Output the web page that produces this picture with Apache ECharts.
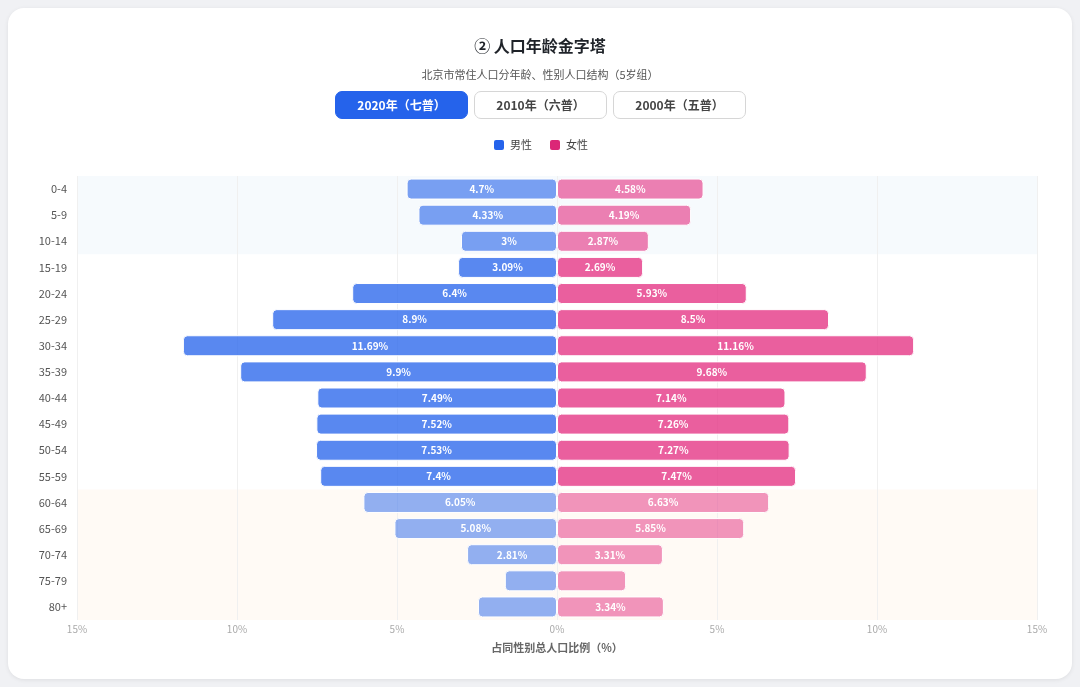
<!DOCTYPE html>
<html>
<head>
<meta charset="utf-8">
<script src="https://cdn.jsdelivr.net/npm/echarts@6/dist/echarts.min.js"></script>
<style>
  html, body { margin: 0; padding: 0; background: #f0f1f4; font-family: "Noto Sans CJK SC", "Noto Sans", sans-serif; }
  #card { position: absolute; left: 8px; top: 8px; width: 1064px; height: 671px; background: #fff; border-radius: 16px; box-shadow: 0 1px 4px rgba(0,0,0,0.08); }
  #box1 { position: absolute; left: 0; top: 0; width: 1080px; height: 687px; }
  .btns { position: absolute; top: 91px; left: 335px; display: flex; gap: 6px; z-index: 2; }
  .btn { width: 133px; height: 28px; box-sizing: border-box; border-radius: 7px; border: 1.5px solid #d6d6d6; background: #fff; color: #444; font-size: 12px; font-weight: bold; display: flex; align-items: center; justify-content: center; padding-bottom: 1px; }
  .btn.on { background: #2563eb; border-color: #2563eb; color: #fff; }
</style>
</head>
<body>
<div id="card"></div>
<div id="box1"></div>
<div class="btns">
  <div class="btn on">2020年（七普）</div>
  <div class="btn">2010年（六普）</div>
  <div class="btn">2000年（五普）</div>
</div>
<script>
var myChart = echarts.init(document.getElementById('box1'))

let ageGroups = ['0-4', '5-9', '10-14', '15-19', '20-24', '25-29', '30-34', '35-39', '40-44',
    '45-49', '50-54', '55-59', '60-64', '65-69', '70-74', '75-79', '80+'];
let maleData = [4.7, 4.33, 3, 3.09, 6.4, 8.9, 11.69, 9.9, 7.49, 7.52, 7.53, 7.4, 6.05, 5.08, 2.81, 1.63, 2.47];
let femaleData = [4.58, 4.19, 2.87, 2.69, 5.93, 8.5, 11.16, 9.68, 7.14, 7.26, 7.27, 7.47, 6.63, 5.85, 3.31, 2.16, 3.34];
let xTicks = [-15, -10, -5, 0, 5, 10, 15];

// 0-14 少儿, 15-59 劳动年龄, 60+ 老年
function stage(i) {
    if (i < 3) return 'child';
    if (i < 12) return 'work';
    return 'old';
}
let alphaOf = { child: 0.6, work: 0.76, old: 0.5 };
let bandColor = { child: '#f6fafd', work: 'rgba(255,255,255,0)', old: '#fffaf5' };
let maleRgb = '37,99,235';
let femaleRgb = '228,45,128';

function barData(arr, sign, rgb) {
    return arr.map(function (v, i) {
        return { value: sign * v, itemStyle: { color: 'rgba(' + rgb + ',' + alphaOf[stage(i)] + ')' } };
    });
}

let labelOpt = {
    show: true,
    position: 'inside',
    color: '#fff',
    fontSize: 10,
    fontWeight: 'bold',
    formatter: function (p) {
        let v = Math.abs(p.value);
        return v < 2.5 ? '' : v + '%';
    }
};

option = {
    textStyle: { fontFamily: '"Noto Sans CJK SC", "Noto Sans", sans-serif' },
    title: [
        {
            text: '② 人口年龄金字塔',
            left: 'center',
            top: 33,
            textStyle: { fontSize: 16, fontWeight: 'bold', color: '#1f2329' }
        },
        {
            text: '北京市常住人口分年龄、性别人口结构（5岁组）',
            left: 'center',
            top: 64,
            textStyle: { fontSize: 11, fontWeight: 'normal', color: '#555' }
        }
    ],
    legend: {
        top: 133,
        left: 'center',
        itemWidth: 12,
        itemHeight: 12,
        itemGap: 16,
        icon: 'roundRect',
        textStyle: { fontSize: 11, color: '#444' },
        data: ['男性', '女性']
    },
    grid: {
        left: 77,
        right: 43,
        top: 176,
        bottom: 67
    },
    xAxis: {
        type: 'value',
        min: xTicks[0],
        max: xTicks[xTicks.length - 1],
        interval: 5,
        name: '占同性别总人口比例（%）',
        nameLocation: 'middle',
        nameGap: 22,
        nameTextStyle: { fontSize: 11, color: '#666', fontWeight: 'bold' },
        axisLine: { show: false },
        axisTick: { show: false },
        axisLabel: {
            fontSize: 10,
            color: '#aaa',
            margin: 4,
            formatter: function (v) { return Math.abs(v) + '%'; }
        },
        splitLine: { lineStyle: { color: '#f0f0f0' } }
    },
    yAxis: {
        type: 'category',
        inverse: true,
        data: ageGroups,
        axisLine: { show: false },
        axisTick: { show: false },
        axisLabel: { fontSize: 11, color: '#555', margin: 10 },
        splitArea: {
            show: true,
            areaStyle: {
                color: ageGroups.map(function (g, i) { return bandColor[stage(i)]; })
            }
        }
    },
    series: [
        {
            name: '男性',
            type: 'bar',
            stack: 'pop',
            barWidth: 21,
            itemStyle: { color: '#2563eb', borderRadius: 4, borderColor: '#fff', borderWidth: 1 },
            label: labelOpt,
            data: barData(maleData, -1, maleRgb)
        },
        {
            name: '女性',
            type: 'bar',
            stack: 'pop',
            barWidth: 21,
            itemStyle: { color: '#db2777', borderRadius: 4, borderColor: '#fff', borderWidth: 1 },
            label: labelOpt,
            data: barData(femaleData, 1, femaleRgb)
        }
    ]
};
myChart.setOption(option);
</script>
</body>
</html>
